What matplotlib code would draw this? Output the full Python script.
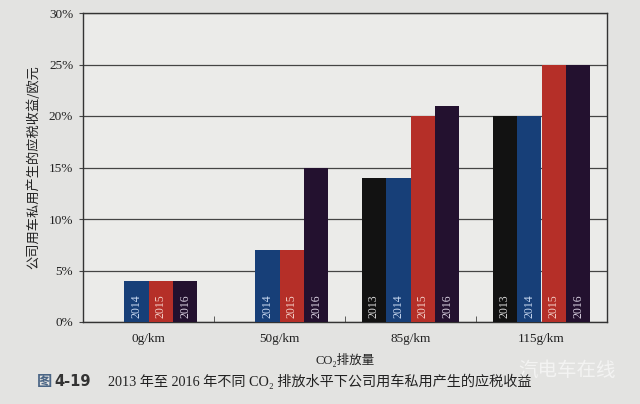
import matplotlib
matplotlib.use("Agg")
import matplotlib.pyplot as plt
import numpy as np

categories = ["0g/km", "50g/km", "85g/km", "115g/km"]
years = ["2013", "2014", "2015", "2016"]
# None = no bar
values = {
    "2013": [None, None, 14, 20],
    "2014": [4, 7, 14, 20],
    "2015": [4, 7, 20, 25],
    "2016": [4, 15, 21, 25],
}
colors = {"2013": "#121212", "2014": "#173f78", "2015": "#b52f28", "2016": "#23112f"}
text_colors = {"2013": "#d8d8d8", "2014": "#c8d8f0", "2015": "#f4d0c8", "2016": "#d8d0e0"}
yticks = [0, 5, 10, 15, 20, 25, 30]

serif = ["Liberation Serif", "DejaVu Serif"]
cjk = ["Noto Sans CJK SC", "DejaVu Sans"]
mixed_serif = ["Liberation Serif", "Noto Sans CJK SC", "DejaVu Sans"]

fig = plt.figure(figsize=(6.4, 4.04), dpi=100, facecolor="#e3e3e1")
ax = fig.add_axes([83/640, 1 - 322/404, (607-83)/640, (322-13)/404])
ax.set_facecolor("#ebebe9")

x = np.arange(len(categories))
w = 0.187
for i, yr in enumerate(years):
    offs = (i - 1.5) * w
    for j, v in enumerate(values[yr]):
        if v is None:
            continue
        ax.bar(x[j] + offs, v, width=w, color=colors[yr], zorder=3)
        ax.text(x[j] + offs, 0.4, yr, rotation=90, ha="center", va="bottom",
                color=text_colors[yr], fontsize=8.5, family=serif, zorder=4)

ax.set_xlim(-0.5, len(categories) - 0.5)
ax.set_ylim(0, 30)
ax.set_yticks(yticks)
ax.set_yticklabels([f"{t}%" for t in yticks], family=serif, fontsize=9.5, color="#222")
ax.yaxis.grid(True, color="#444", lw=0.9, zorder=1)
ax.set_xticks(x)
ax.set_xticklabels(categories, family=serif, fontsize=9.5, color="#222")
ax.tick_params(axis="x", length=0, pad=8)
ax.tick_params(axis="y", length=3, color="#444", pad=4)
ax.set_xticks(np.arange(0.5, len(categories) - 0.5, 1), minor=True)
ax.tick_params(axis="x", which="minor", direction="in", length=4, color="#444")
for s in ax.spines.values():
    s.set_color("#333")
    s.set_linewidth(1.0)

ax.set_ylabel("公司用车私用产生的应税收益/欧元", family=cjk, fontsize=9.5, color="#222", labelpad=6)
fig.text((83+607)/2/640, 1 - 360/404, "CO₂排放量", ha="center", va="center",
         family=mixed_serif, fontsize=9, color="#222")

fig.text(37/640, 1 - 381/404, "图", ha="left", va="center", family=cjk,
         fontsize=11, fontweight="bold", color="#4a6585")
fig.text(54/640, 1 - 381/404, "4-19", ha="left", va="center", family=["DejaVu Sans"],
         fontsize=10.5, fontweight="bold", color="#333")
fig.text(108/640, 1 - 381/404,
         "2013 年至 2016 年不同 CO₂ 排放水平下公司用车私用产生的应税收益",
         ha="left", va="center", family=mixed_serif, fontsize=10.2, color="#222")
fig.text(567/640, 1 - 370/404, "汽电车在线", ha="center", va="center", family=cjk,
         fontsize=14, color="#ffffff", alpha=0.6)

fig.savefig("out.png", dpi=100, facecolor=fig.get_facecolor())
